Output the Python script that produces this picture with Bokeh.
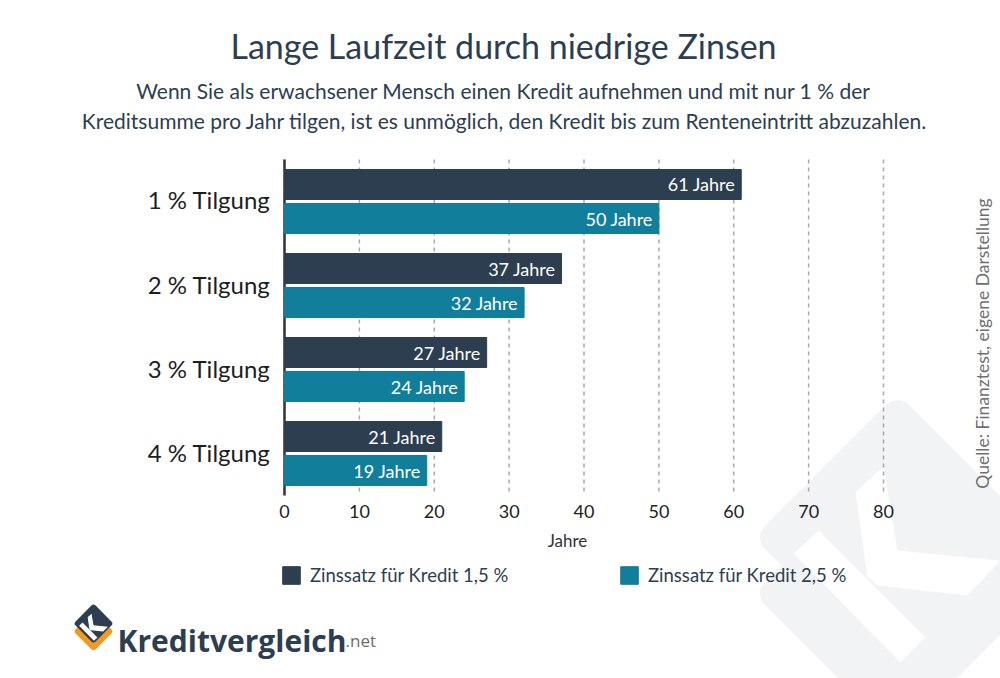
import math
from bokeh.plotting import figure
from bokeh.models import Range1d, FactorRange, Legend, LegendItem, ColumnDataSource
from bokeh.transform import dodge
from bokeh.core.properties import value
from bokeh.embed import file_html
from bokeh.resources import INLINE

# ---------------- data ----------------
categories = ["1 % Tilgung", "2 % Tilgung", "3 % Tilgung", "4 % Tilgung"]
series_names = ["Zinssatz für Kredit 1,5 %", "Zinssatz für Kredit 2,5 %"]
years_rate_15 = [61, 37, 27, 21]
years_rate_25 = [50, 32, 24, 19]
x_ticks = [0, 10, 20, 30, 40, 50, 60, 70, 80]

title_text = "Lange Laufzeit durch niedrige Zinsen"
subtitle_lines = ["Wenn Sie als erwachsener Mensch einen Kredit aufnehmen und mit nur 1 % der",
                  "Kreditsumme pro Jahr tilgen, ist es unmöglich, den Kredit bis zum Renteneintritt abzuzahlen."]
x_label = "Jahre"
source_text = "Quelle: Finanztest, eigene Darstellung"
brand_name = "Kreditvergleich"
brand_tld = ".net"

# ---------------- layout / styling ----------------
DARK = "#2c3e50"
TEAL = "#117f9b"
WM = "#f2f3f5"
ORANGE = "#f39a1e"
FONT = "Lato"
W, H = 1000, 678
FL, FR, FT, FB = 284, 883, 159, 495          # plot area in pixels
unit_x = (FR - FL) / (x_ticks[-1] - x_ticks[0])
unit_y = (FB - FT) / len(categories)
pad_side = (H / unit_y - len(categories)) / 2   # padding applied on each side

# main data ranges, mapped so that the data area sits at FL..FR / FT..FB
x_range = Range1d(x_ticks[0] - FL / unit_x, x_ticks[0] + (W - FL) / unit_x)
cat_range = FactorRange(factors=list(reversed(categories)),
                        range_padding=pad_side, range_padding_units="absolute")

p = figure(width=W, height=H, x_range=x_range, y_range=cat_range,
           min_border=0, x_axis_location=None, y_axis_location=None,
           output_backend="svg", toolbar_location=None)
p.title.visible = False
p.outline_line_color = None
p.background_fill_color = "white"
p.border_fill_color = "white"
p.grid.visible = False
# pixel range for the decoration (x); y pixels converted to synthetic coords
p.extra_x_ranges = {"px": Range1d(0, W)}


def Y(py):
    """pixel row -> synthetic coordinate of the categorical y range"""
    return -pad_side + (H - py) / unit_y


shift = (H / 2 - (FT + FB) / 2) / unit_y
bar_off = 17 / unit_y
bar_h = 30 / unit_y

# ---------------- watermark logo (bottom right) ----------------
def diamond(cx, cy, half):
    return [cx, cx + half, cx, cx - half], [cy - half, cy, cy + half, cy]

WM_C, WM_HALF, WM_SHIFT, WM_R = (897, 537), 144, 56, 16
K_PARTS = [
    [(855, 492), (883, 466), (897, 550), (1000, 560), (967, 595), (877, 585), (867, 577)],
    [(793, 553), (818, 530), (925, 637), (900, 662)],
]

def draw_logo(cx, cy, scale, back_color, front_color, k_color, r):
    half = WM_HALF * scale - r * math.sqrt(2)
    for dy, col in ((WM_SHIFT * scale, back_color), (0, front_color)):
        xs, ys = diamond(cx, cy + dy, half)
        p.patch(xs, [Y(v) for v in ys], fill_color=col, line_color=col,
                line_width=2 * r, line_join="round", x_range_name="px")
    for part in K_PARTS:
        xs = [cx + (x - WM_C[0]) * scale for x, _ in part]
        ys = [Y(cy + (y - WM_C[1]) * scale) for _, y in part]
        p.patch(xs, ys, fill_color=k_color, line_color=None, x_range_name="px")

draw_logo(WM_C[0], WM_C[1], 1.0, WM, WM, "white", WM_R)

# ---------------- grid + axis ----------------
tick_src = ColumnDataSource(dict(t=x_ticks, lab=[str(t) for t in x_ticks]))
p.segment(x0="t", x1="t", y0=Y(FT), y1=Y(FB), source=tick_src,
          line_color="#a8a8a8", line_dash="4 4", line_width=1.5)
p.segment(x0=[x_ticks[0]], x1=[x_ticks[0]], y0=[Y(FT)], y1=[Y(FB)],
          line_color="#333333", line_width=2.5)
p.text(x="t", y=Y(511), text="lab", source=tick_src,
       text_align="center", text_baseline="middle", text_font=value(FONT),
       text_font_size="18px", text_color="#222222")

# ---------------- bars ----------------
src = ColumnDataSource(dict(
    cat=categories,
    v15=years_rate_15,
    v25=years_rate_25,
    l15=[f"{v} Jahre" for v in years_rate_15],
    l25=[f"{v} Jahre" for v in years_rate_25],
))

r15 = p.hbar(y=dodge("cat", shift + bar_off, range=cat_range), right="v15", left=0,
             height=bar_h, source=src, fill_color=DARK, line_color=DARK)
r25 = p.hbar(y=dodge("cat", shift - bar_off, range=cat_range), right="v25", left=0,
             height=bar_h, source=src, fill_color=TEAL, line_color=TEAL)

for col, lab, off in (("v15", "l15", bar_off), ("v25", "l25", -bar_off)):
    p.text(x=col, y=dodge("cat", shift + off, range=cat_range), text=lab, source=src,
           x_offset=-6, text_align="right", text_baseline="middle",
           text_color="white", text_font=value(FONT), text_font_size="18px")

# category labels
p.text(x=FL - 14, y=dodge("cat", shift + 1.5 / unit_y, range=cat_range), text="cat",
       source=src, x_range_name="px", text_align="right", text_baseline="middle",
       text_color="#1e1e1e", text_font=value(FONT), text_font_size="24px")

# ---------------- legend ----------------
for rend, name, px in ((r15, series_names[0], 280), (r25, series_names[1], 618)):
    lg = Legend(items=[LegendItem(label=name, renderers=[rend])],
                location=(px, H - 586), orientation="horizontal",
                glyph_width=22, glyph_height=22, label_standoff=8,
                label_text_font=FONT, label_text_font_size="18.5px",
                label_text_color=DARK, padding=0, margin=0, spacing=0,
                border_line_color=None, background_fill_alpha=0)
    p.add_layout(lg)

# ---------------- titles ----------------
def txt(text, x, y, size, color=DARK, align="center", baseline="middle",
        style="normal", angle=0.0, font=FONT):
    p.text(x=[x], y=[Y(y)], text=[text], text_align=align, text_baseline=baseline,
           text_font=value(font), text_font_size=size, text_color=color,
           text_font_style=style, angle=angle, x_range_name="px")

txt(title_text, 503, 45, "34px")
txt(subtitle_lines[0], 503, 90, "21px")
txt(subtitle_lines[1], 504, 120, "21px")
txt(x_label, 567, 540, "17px", color="#333333")
txt(source_text, 982, 343, "17.5px", color="#6f6f6f", angle=math.pi / 2)

# ---------------- brand logo (bottom left) ----------------
draw_logo(93, 623, 20 / WM_HALF, ORANGE, DARK, "white", 3)
txt(brand_name, 117, 640, "30px", color=DARK, align="left", baseline="alphabetic",
    style="bold", font="Open Sans")
txt(brand_tld, 345, 640, "17px", color="#6d6d6d", align="left", baseline="alphabetic",
    font="Open Sans")

open("out.html", "w").write(file_html(p, INLINE))
